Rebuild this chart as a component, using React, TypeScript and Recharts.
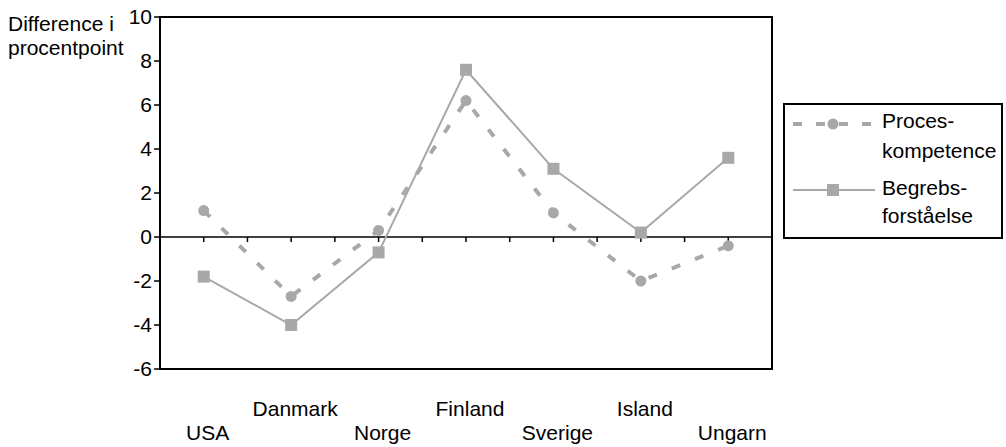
import React from 'react'
import {
  LineChart,
  Line,
  XAxis,
  YAxis,
  Legend,
  ReferenceLine,
  ReferenceArea,
} from 'recharts'

const countries = ['USA', 'Danmark', 'Norge', 'Finland', 'Sverige', 'Island', 'Ungarn']
const procesValues = [1.2, -2.7, 0.3, 6.2, 1.1, -2.0, -0.4]
const begrebValues = [-1.8, -4.0, -0.7, 7.6, 3.1, 0.2, 3.6]
const yTicks = [-6, -4, -2, 0, 2, 4, 6, 8, 10]
const zeroLineTicks = [0, 0.5, 1, 1.5, 2, 2.5, 3, 3.5, 4, 4.5, 5, 5.5, 6]

const GRAY = '#a8a8a8'
const FONT = '"Liberation Sans", Arial, sans-serif'

const data = countries.map((name, i) => ({
  idx: i,
  name,
  proces: procesValues[i],
  begreb: begrebValues[i],
}))

// labels alternate between two rows, like the original
function CountryTick(props: any) {
  const { x, y, payload } = props
  const i = payload.value as number
  const upper = i % 2 === 1
  return (
    <text
      x={x + 4}
      y={y + (upper ? 39 : 63)}
      textAnchor="middle"
      fontSize={21}
      fill="#000"
      fontFamily={FONT}
    >
      {countries[i]}
    </text>
  )
}

function CircleDot(props: any) {
  const { cx, cy, index } = props
  return <circle key={`c-${index}`} cx={cx} cy={cy} r={5.5} fill={GRAY} />
}

function SquareDot(props: any) {
  const { cx, cy, index } = props
  return <rect key={`s-${index}`} x={cx - 6} y={cy - 6} width={12} height={12} fill={GRAY} />
}

function LegendBox() {
  return (
    <svg width={220} height={136} style={{ display: 'block' }}>
      <rect x={1} y={1} width={218} height={134} fill="#fff" stroke="#000" strokeWidth={2} />
      <line x1={10} y1={21} x2={92} y2={21} stroke={GRAY} strokeWidth={4} strokeDasharray="9 14" />
      <circle cx={50} cy={21} r={5.5} fill={GRAY} />
      <line x1={10} y1={87} x2={92} y2={87} stroke={GRAY} strokeWidth={2} />
      <rect x={44} y={81} width={12} height={12} fill={GRAY} />
      <g fontSize={21} fill="#000" fontFamily={FONT}>
        <text x={99} y={25}>Proces-</text>
        <text x={99} y={55}>kompetence</text>
        <text x={99} y={92}>Begrebs-</text>
        <text x={99} y={120}>forståelse</text>
      </g>
    </svg>
  )
}

export default function App() {
  return (
    <div style={{ position: 'absolute', left: 0, top: 0, fontFamily: FONT }}>
      <LineChart
        width={1006}
        height={447}
        data={data}
        margin={{ top: 17, right: 234, left: 100, bottom: 48 }}
        style={{ fontFamily: FONT }}
      >
        <XAxis
          type="number"
          dataKey="idx"
          domain={[-0.5, 6.5]}
          ticks={[0, 1, 2, 3, 4, 5, 6]}
          interval={0}
          height={30}
          axisLine={false}
          tickLine={false}
          tick={<CountryTick />}
        />
        <YAxis
          type="number"
          domain={[-6, 10]}
          ticks={yTicks}
          interval={0}
          width={60}
          tickSize={6}
          tickMargin={2}
          axisLine={{ stroke: '#000', strokeWidth: 2 }}
          tickLine={{ stroke: '#000', strokeWidth: 1.5 }}
          tick={{ fontSize: 21, fill: '#000', fontFamily: FONT }}
          label={{
            content: () => (
              <g fontSize={21} fill="#000" fontFamily={FONT}>
                <text x={8} y={31}>Difference i</text>
                <text x={8} y={55}>procentpoint</text>
              </g>
            ),
          }}
        />
        <ReferenceArea
          x1={-0.5}
          x2={6.5}
          y1={-6}
          y2={10}
          fill="none"
          fillOpacity={0}
          stroke="#000"
          strokeWidth={2}
        />
        <ReferenceLine y={0} stroke="#000" strokeWidth={1.5} />
        {zeroLineTicks.map((t) => (
          <ReferenceLine
            key={`zt-${t}`}
            segment={[
              { x: t, y: 0 },
              { x: t, y: -0.23 },
            ]}
            stroke="#000"
            strokeWidth={1.5}
          />
        ))}
        <Line
          dataKey="proces"
          name="Proceskompetence"
          stroke={GRAY}
          strokeWidth={4}
          strokeDasharray="9 16"
          dot={<CircleDot />}
          activeDot={false}
          isAnimationActive={false}
        />
        <Line
          dataKey="begreb"
          name="Begrebsforståelse"
          stroke={GRAY}
          strokeWidth={2}
          dot={<SquareDot />}
          activeDot={false}
          isAnimationActive={false}
        />
        <Legend
          layout="vertical"
          align="center"
          verticalAlign="middle"
          content={() => <LegendBox />}
          wrapperStyle={{ left: 783, top: 103, width: 220, height: 136 }}
        />
      </LineChart>
    </div>
  )
}
